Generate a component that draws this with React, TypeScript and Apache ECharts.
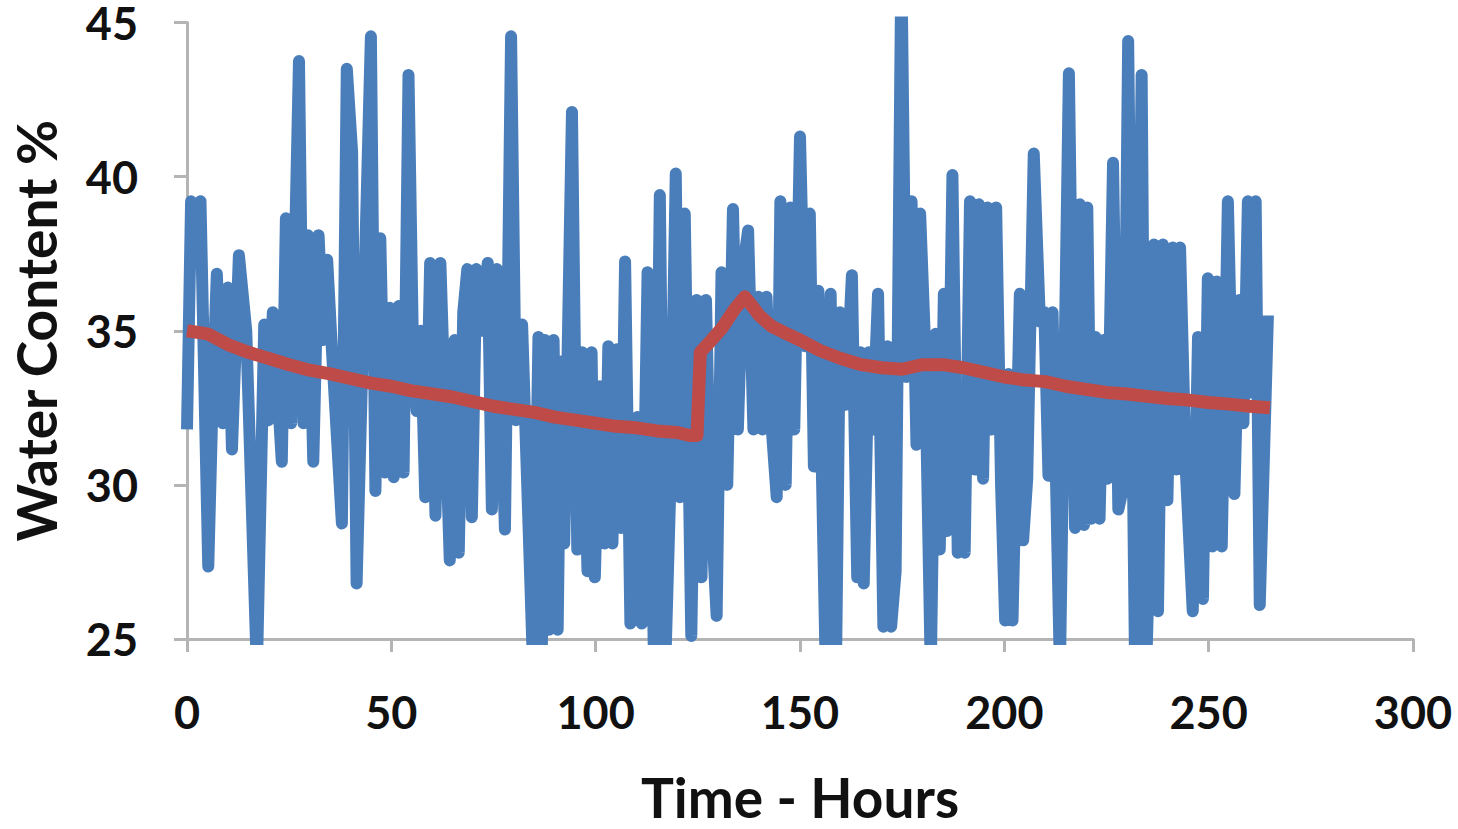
import React, { useEffect, useRef } from "react";
import * as echarts from "echarts";

// Measured water content (blue), hour stamps and values
const rawHours = [
  0, 1, 2.1, 3.3, 5.2, 6.3, 7.3, 8.8, 10, 11, 12.7, 14.5, 17.1, 18.9, 20, 21, 23.2, 24.2, 25.5, 27.4,
  28.5, 29.6, 30.9, 32.2, 33.3, 34.3, 35.5, 37.9, 39.1, 40.4, 41.5, 45.0, 46.1, 47.3, 48.5, 49.6, 50.6, 51.8, 53.0, 54.2,
  55.3, 56.2, 57.2, 58.3, 59.5, 60.8, 62.0, 64.3, 65.5, 66.5, 67.6, 68.6, 69.7, 70.8, 72.0, 73.6, 74.6, 75.8, 77.8, 79.3,
  80.5, 82.0, 84.7, 86.0, 86.8, 87.6, 88.6, 89.7, 90.7, 91.5, 92.3, 94.2, 95.5, 96.7, 98.0, 99.0, 99.8, 101.0, 102.2, 103.1,
  104.1, 105.2, 106.2, 107.2, 108.5, 110.2, 111.3, 112.7, 114.3, 115.7, 117.0, 118.2, 119.6, 120.6, 121.8, 123.4, 124.7, 125.9, 127.0, 128.0,
  129.6, 130.8, 132.2, 133.6, 134.8, 136.0, 137.3, 138.6, 139.8, 140.8, 141.8, 143.0, 144.3, 145.2, 146.5, 147.6, 148.6, 150.0, 151.2, 152.4,
  153.4, 154.5, 156.3, 157.5, 158.8, 159.8, 161.2, 162.7, 164.0, 164.8, 165.6, 166.8, 167.8, 169.1, 170.4, 171.4, 172.3, 173.4, 174.8, 176.0,
  177.3, 178.5, 179.4, 180.5, 182.0, 183.2, 184.2, 185.2, 186.0, 187.3, 188.6, 189.5, 190.3, 191.6, 192.8, 193.8, 194.8, 195.9, 196.9, 198.0,
  199.2, 200.2, 201.0, 202.0, 203.8, 204.6, 205.6, 207.2, 208.7, 209.8, 210.8, 211.8, 213.6, 215.8, 217.3, 218.5, 219.5, 220.3, 221.3, 222.3,
  223.3, 224.3, 225.2, 226.6, 227.9, 229.2, 230.3, 232.0, 233.6, 234.7, 235.6, 236.6, 237.6, 238.8, 239.9, 241.2, 242.1, 243.0, 244.4, 246.1,
  247.4, 248.6, 249.8, 250.9, 252.0, 253.2, 254.7, 256.3, 257.5, 258.5, 259.6, 260.6, 261.5, 262.5, 264.5,
];
const rawWater = [
  31.8, 39.2, 39.0, 39.2, 27.35, 33.0, 36.85, 32.0, 36.4, 31.15, 37.45, 35.0, 24.0, 35.2, 32.1, 35.6, 30.75, 38.65, 32.0, 43.75,
  32.0, 38.1, 30.75, 38.1, 34.7, 37.3, 34.3, 28.75, 43.5, 40.8, 26.8, 44.55, 29.8, 38.0, 30.4, 35.75, 30.25, 35.8, 30.4, 43.3,
  34.4, 32.4, 35.0, 29.6, 37.2, 29.0, 37.2, 27.55, 34.7, 27.8, 35.6, 37.0, 28.95, 37.0, 35.0, 37.2, 29.2, 37.0, 28.55, 44.55,
  32.1, 35.2, 24.0, 34.8, 24.2, 34.7, 25.3, 34.7, 25.3, 34.0, 28.1, 42.1, 27.9, 34.3, 27.2, 34.3, 27.0, 33.2, 28.1, 34.5,
  28.1, 34.4, 28.6, 37.25, 25.5, 32.2, 25.5, 36.9, 24.0, 39.4, 24.0, 29.6, 40.1, 29.6, 38.8, 25.1, 36.0, 27.0, 36.0, 30.0,
  25.75, 36.9, 30.0, 38.95, 31.8, 37.0, 38.25, 31.8, 36.1, 31.8, 36.1, 32.0, 29.6, 39.2, 30.0, 39.0, 31.8, 41.3, 34.5, 38.8,
  30.6, 36.3, 24.0, 36.2, 24.0, 35.6, 32.6, 36.8, 27.0, 34.3, 26.8, 34.3, 31.8, 36.2, 25.4, 34.5, 25.4, 27.2, 47.0, 33.5,
  39.2, 31.3, 38.8, 34.9, 24.0, 34.9, 27.9, 36.2, 28.5, 40.05, 27.8, 33.0, 27.8, 39.2, 30.5, 39.1, 30.2, 39.0, 31.8, 39.0,
  30.0, 25.6, 33.6, 25.6, 36.2, 28.2, 30.2, 40.75, 35.3, 35.6, 30.3, 35.6, 24.0, 43.35, 28.6, 39.1, 28.7, 39.0, 28.9, 34.8,
  28.9, 34.7, 30.2, 40.45, 29.2, 30.0, 44.4, 24.0, 43.3, 24.0, 28.4, 37.8, 25.9, 37.8, 29.5, 37.7, 30.5, 37.7, 30.5, 25.9,
  34.8, 26.3, 36.7, 28.0, 36.6, 28.0, 39.2, 29.7, 36.0, 32.0, 39.2, 33.0, 39.2, 26.1, 35.5,
];

// Smoothed trend (red)
const trendHours = [
  0, 5, 10, 15, 20, 25, 30, 35, 40, 45, 50, 55, 60, 65, 70, 75, 80, 85, 90, 95,
  100, 105, 110, 115, 120, 123, 124.8, 125.6, 128, 131, 134, 136.5, 138, 140, 143, 146, 150, 155, 160, 165,
  170, 175, 180, 185, 190, 195, 200, 205, 210, 215, 220, 225, 230, 235, 240, 245, 250, 255, 260, 265,
];
const trendWater = [
  35.0, 34.9, 34.55, 34.3, 34.1, 33.9, 33.72, 33.6, 33.45, 33.3, 33.2, 33.05, 32.95, 32.85, 32.7, 32.55, 32.45, 32.35, 32.2, 32.1,
  32.0, 31.9, 31.85, 31.75, 31.7, 31.6, 31.6, 34.3, 34.65, 35.1, 35.7, 36.1, 35.85, 35.5, 35.15, 34.95, 34.7, 34.35, 34.1, 33.9,
  33.8, 33.75, 33.9, 33.9, 33.8, 33.65, 33.5, 33.4, 33.35, 33.2, 33.1, 33.0, 32.95, 32.87, 32.8, 32.75, 32.67, 32.62, 32.55, 32.5,
];

const xTicks = { min: 0, max: 300, interval: 50 };
const yTicks = { min: 25, max: 45, interval: 5 };

export default function App() {
  const ref = useRef<HTMLDivElement>(null);
  useEffect(() => {
    if (!ref.current) return;
    const chart = echarts.init(ref.current, null, { renderer: "svg" });
    const font = "Lato, 'Open Sans', sans-serif";
    const axisColor = "#b4b4b4";
    chart.setOption({
      animation: false,
      backgroundColor: "#ffffff",
      grid: { left: 187, right: 45, top: 13, bottom: 176, containLabel: false },
      xAxis: {
        type: "value",
        min: xTicks.min,
        max: xTicks.max,
        interval: xTicks.interval,
        name: "Time - Hours",
        nameLocation: "middle",
        nameGap: 130,
        nameTextStyle: { fontFamily: font, fontSize: 55, fontWeight: "bold", color: "#111" },
        axisLine: { show: true, onZero: false, lineStyle: { color: axisColor, width: 3 } },
        axisTick: { show: true, length: 13, lineStyle: { color: axisColor, width: 3 } },
        axisLabel: { fontFamily: font, fontSize: 45, fontWeight: "bold", color: "#111", margin: 50 },
        splitLine: { show: false },
      },
      yAxis: {
        type: "value",
        min: yTicks.min,
        max: yTicks.max,
        interval: yTicks.interval,
        name: "Water Content %",
        nameLocation: "middle",
        nameGap: 124,
        nameRotate: 90,
        nameTextStyle: { fontFamily: font, fontSize: 55, fontWeight: "bold", color: "#111" },
        axisLine: { show: true, onZero: false, lineStyle: { color: axisColor, width: 3 } },
        axisTick: { show: true, length: 13, lineStyle: { color: axisColor, width: 3 } },
        axisLabel: {
          fontFamily: font,
          fontSize: 45,
          fontWeight: "bold",
          color: "#111",
          margin: 49,
          padding: [10, 0, 0, 0],
        },
        splitLine: { show: false },
      },
      series: [
        {
          type: "line",
          name: "Measured",
          data: rawHours.map((h, i) => [h, rawWater[i]]),
          showSymbol: false,
          clip: true,
          lineStyle: { color: "#4a7ebb", width: 12, join: "round" },
          itemStyle: { color: "#4a7ebb" },
          z: 2,
        },
        {
          type: "line",
          name: "Trend",
          data: trendHours.map((h, i) => [h, trendWater[i]]),
          showSymbol: false,
          clip: true,
          lineStyle: { color: "#be4b48", width: 13, join: "round" },
          itemStyle: { color: "#be4b48" },
          z: 3,
        },
      ],
    });
    return () => chart.dispose();
  }, []);
  return (
    <div
      ref={ref}
      style={{ position: "fixed", left: 0, top: 0, width: 1458, height: 829, background: "#fff" }}
    />
  );
}
